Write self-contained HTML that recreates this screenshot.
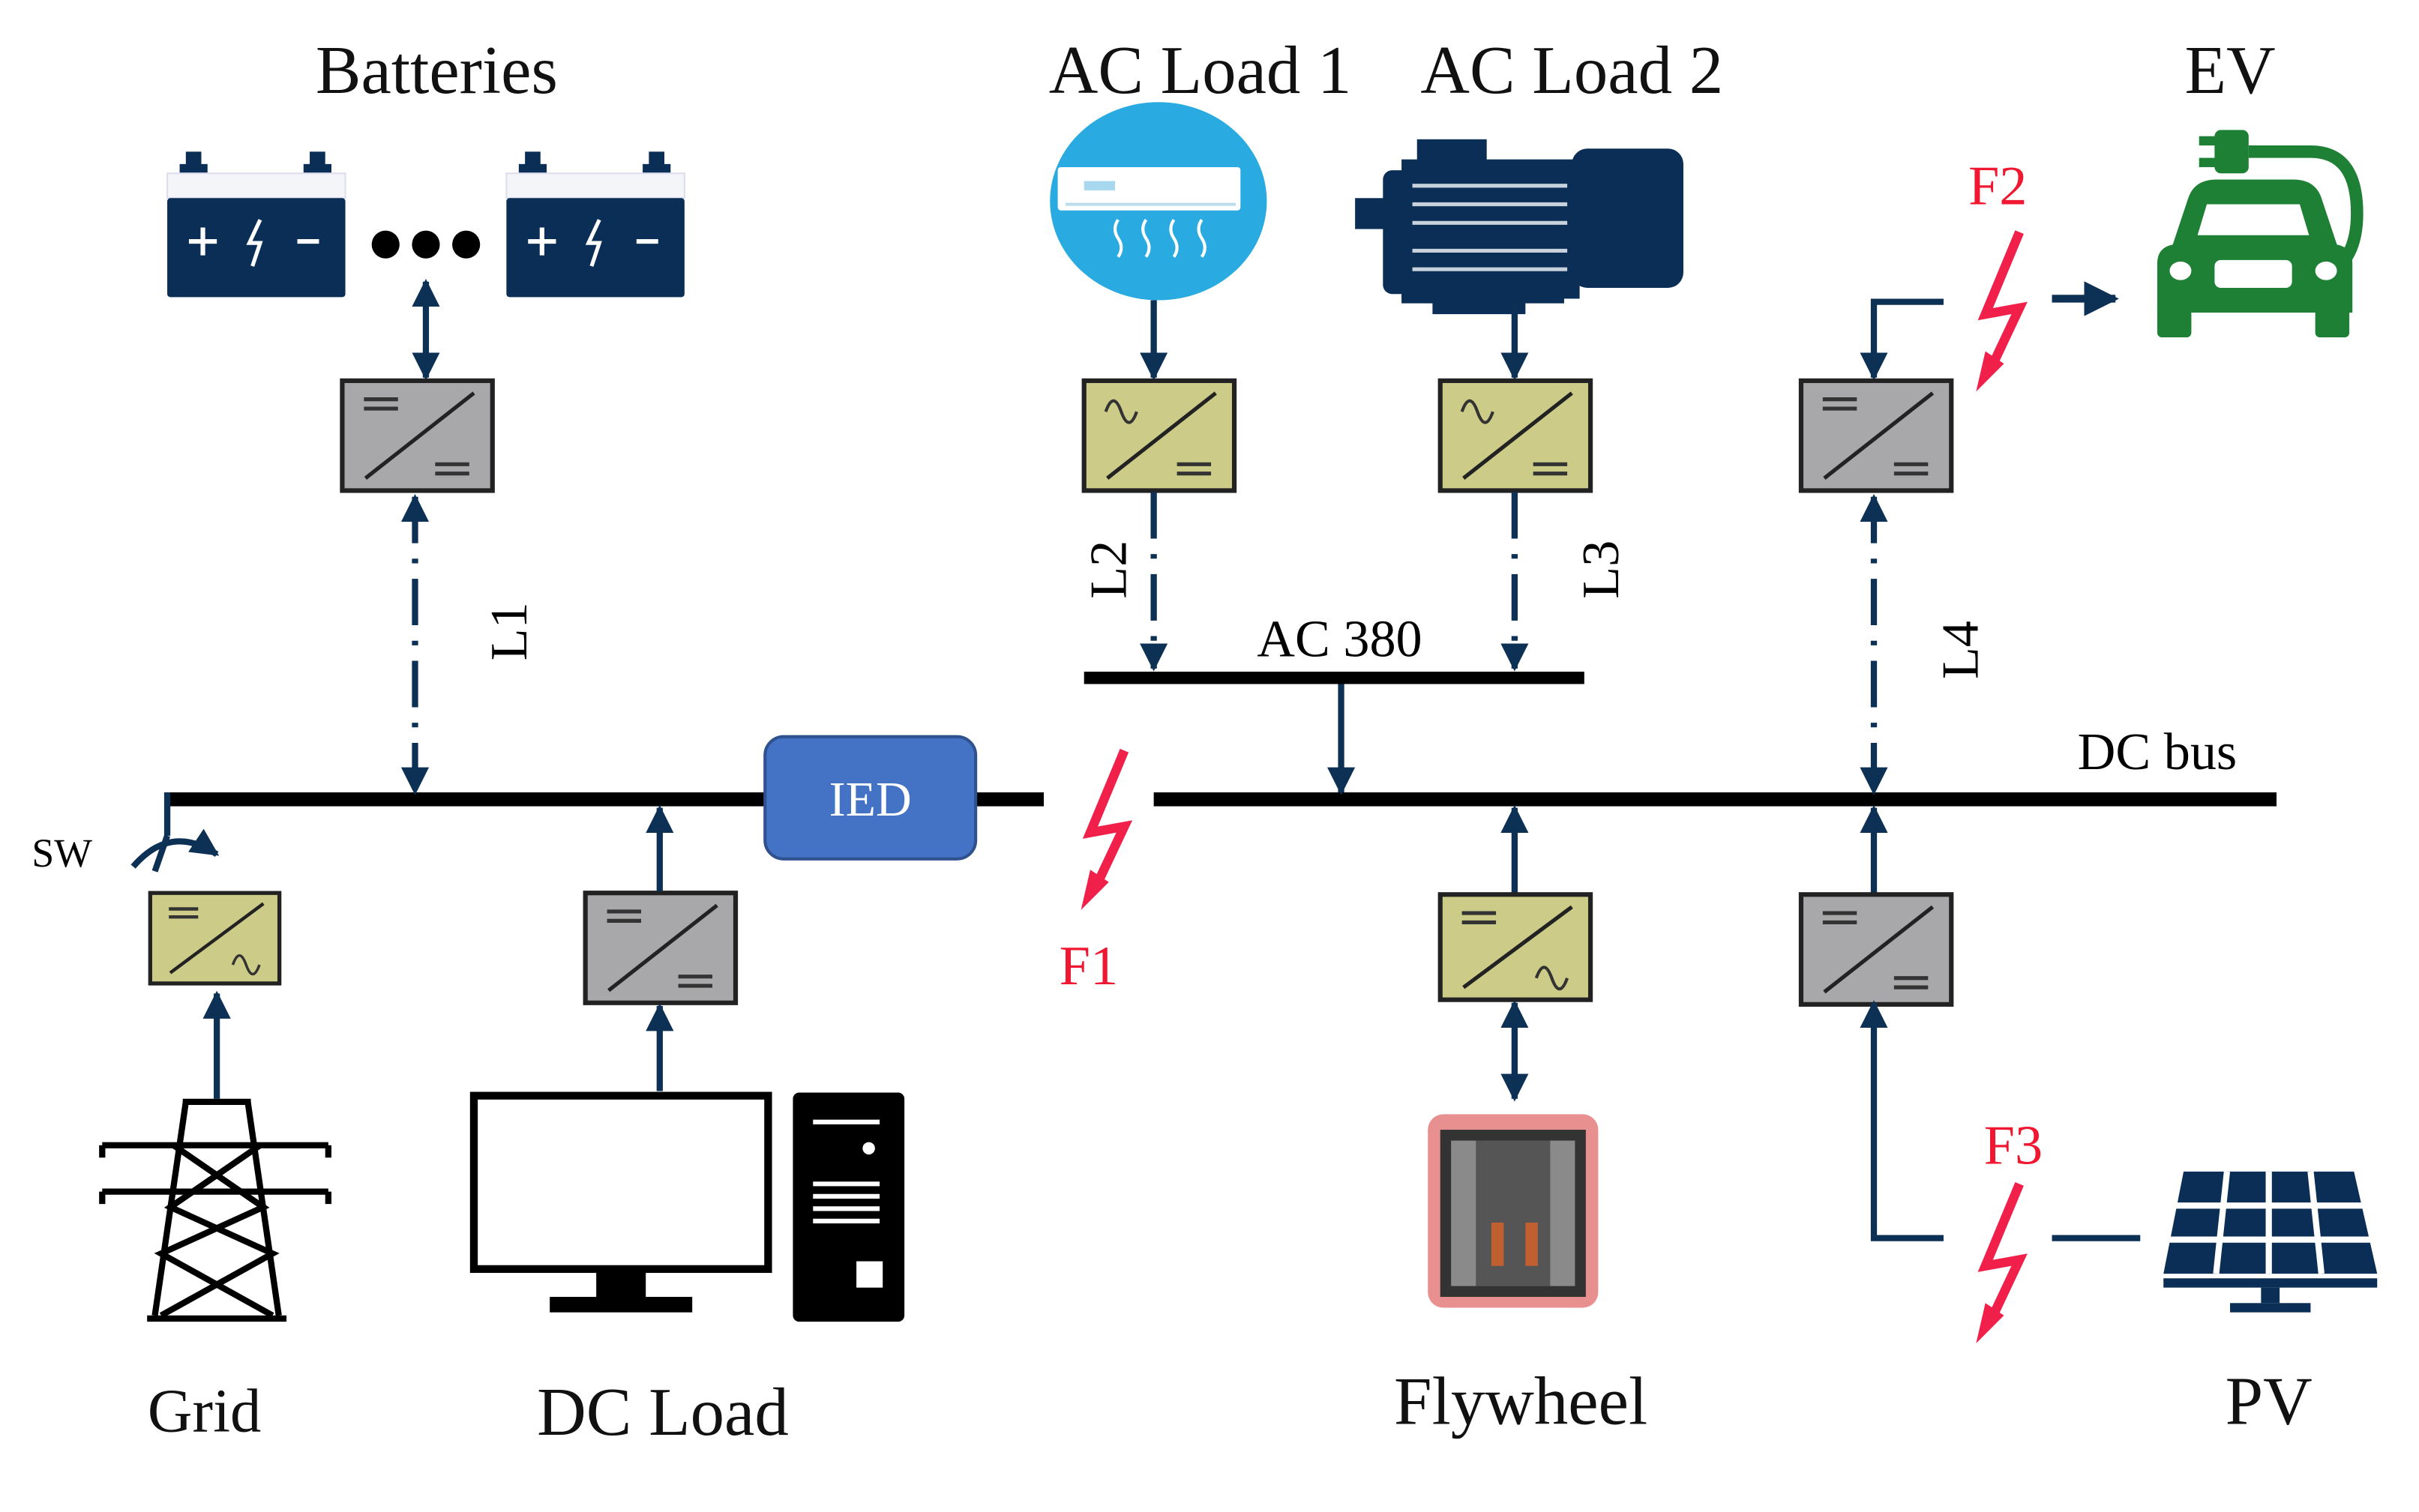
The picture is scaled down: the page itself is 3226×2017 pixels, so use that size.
<!DOCTYPE html>
<html><head><meta charset="utf-8"><style>
html,body{margin:0;padding:0;background:#fff}
svg{display:block}
text{font-family:"Liberation Serif",serif}
</style></head><body>
<svg width="3226" height="2017" viewBox="0 0 1562 977" preserveAspectRatio="none" xmlns="http://www.w3.org/2000/svg">
<defs>
<marker id="a" viewBox="0 0 10 10" refX="9" refY="5" markerWidth="4.5" markerHeight="4.5" orient="auto-start-reverse" markerUnits="strokeWidth"><path d="M0,0 L10,5 L0,10 z" fill="#0d3055"/></marker>
<g id="bolt">
<path d="M14,-45 L-8,8 L14,4 L-2,38" fill="none" stroke="#f0204a" stroke-width="6" stroke-linejoin="miter"/>
<path d="M-8,32 L4,40 L-14,58 z" fill="#f0204a"/>
</g>
<g id="cgray">
<rect x="0" y="0" width="97" height="71" fill="#a8a8aa" stroke="#222" stroke-width="3"/>
<line x1="15" y1="63" x2="85" y2="8" stroke="#222" stroke-width="2.5"/>
<line x1="14" y1="12" x2="36" y2="12" stroke="#333" stroke-width="2.5"/><line x1="14" y1="18" x2="36" y2="18" stroke="#333" stroke-width="2.5"/>
<line x1="60" y1="54" x2="82" y2="54" stroke="#333" stroke-width="2.5"/><line x1="60" y1="60" x2="82" y2="60" stroke="#333" stroke-width="2.5"/>
</g>
<g id="cac">
<rect x="0" y="0" width="97" height="71" fill="#cccc88" stroke="#222" stroke-width="3"/>
<line x1="15" y1="63" x2="85" y2="8" stroke="#222" stroke-width="2.5"/>
<path d="M14,20 q5,-14 10,0 q5,14 10,0" fill="none" stroke="#333" stroke-width="2"/>
<line x1="60" y1="54" x2="82" y2="54" stroke="#333" stroke-width="2.5"/><line x1="60" y1="60" x2="82" y2="60" stroke="#333" stroke-width="2.5"/>
</g>
<g id="cdcac">
<rect x="0" y="0" width="97" height="68" fill="#cccc88" stroke="#222" stroke-width="3"/>
<line x1="15" y1="60" x2="85" y2="8" stroke="#222" stroke-width="2.5"/>
<line x1="14" y1="12" x2="36" y2="12" stroke="#333" stroke-width="2.5"/><line x1="14" y1="18" x2="36" y2="18" stroke="#333" stroke-width="2.5"/>
<path d="M62,54 q5,-14 10,0 q5,14 10,0" fill="none" stroke="#333" stroke-width="2"/>
</g>
<g id="batt">
<rect x="12" y="-14" width="10" height="14" fill="#0a2e55"/><rect x="8" y="-6" width="18" height="6" fill="#0a2e55"/>
<rect x="92" y="-14" width="10" height="14" fill="#0a2e55"/><rect x="88" y="-6" width="18" height="6" fill="#0a2e55"/>
<rect x="0" y="0" width="115" height="16" fill="#f3f5f8" stroke="#dde" stroke-width="1"/>
<rect x="0" y="16" width="115" height="64" fill="#0a2e55" rx="2"/>
<line x1="14" y1="44" x2="32" y2="44" stroke="#fff" stroke-width="3"/><line x1="23" y1="35" x2="23" y2="53" stroke="#fff" stroke-width="3"/>
<path d="M60,30 L53,45 L60,45 L55,60" fill="none" stroke="#fff" stroke-width="2.5"/>
<line x1="84" y1="44" x2="98" y2="44" stroke="#fff" stroke-width="3"/>
</g>
</defs>

<g font-size="44" fill="#111" text-anchor="middle">
<text x="282" y="60">Batteries</text>
<text x="775" y="60">AC Load 1</text>
<text x="1015" y="60">AC Load 2</text>
<text x="1440" y="60">EV</text>
<text x="132" y="925" font-size="40">Grid</text>
<text x="428" y="927">DC Load</text>
<text x="982" y="920">Flywheel</text>
<text x="1465" y="920">PV</text>
</g>

<rect x="107" y="512" width="567" height="9" fill="#000"/>
<rect x="745" y="512" width="725" height="9" fill="#000"/>
<rect x="700" y="434" width="323" height="8" fill="#000"/>
<text x="865" y="424" font-size="34" text-anchor="middle">AC 380</text>
<text x="1393" y="497" font-size="34" text-anchor="middle">DC bus</text>

<use href="#batt" x="108" y="112"/>
<use href="#batt" x="327" y="112"/>
<circle cx="249" cy="158" r="9" fill="#000"/><circle cx="275" cy="158" r="9" fill="#000"/><circle cx="301" cy="158" r="9" fill="#000"/>
<line x1="275" y1="182" x2="275" y2="244" stroke="#0d3055" stroke-width="4" marker-start="url(#a)" marker-end="url(#a)"/>
<use href="#cgray" x="221" y="246"/>
<line x1="268" y1="321" x2="268" y2="512" stroke="#0d3055" stroke-width="4" stroke-dasharray="30,10,3,10" marker-start="url(#a)" marker-end="url(#a)"/>
<text transform="translate(340,408) rotate(-90)" font-size="34" text-anchor="middle">L1</text>

<ellipse cx="748" cy="130" rx="70" ry="64" fill="#29abe2"/>
<rect x="683" y="108" width="118" height="28" fill="#fff" rx="2"/>
<rect x="700" y="117" width="20" height="6" fill="#a8d8ef"/>
<line x1="688" y1="132" x2="798" y2="132" stroke="#bde" stroke-width="2"/>
<path d="M722,142 q-4,6 0,12 q4,6 0,12 M740,142 q-4,6 0,12 q4,6 0,12 M758,142 q-4,6 0,12 q4,6 0,12 M776,142 q-4,6 0,12 q4,6 0,12" fill="none" stroke="#fff" stroke-width="2"/>
<line x1="745" y1="194" x2="745" y2="244" stroke="#0d3055" stroke-width="4" marker-end="url(#a)"/>
<use href="#cac" x="700" y="246"/>
<line x1="745" y1="318" x2="745" y2="432" stroke="#0d3055" stroke-width="4" stroke-dasharray="30,10,3,10" marker-end="url(#a)"/>
<text transform="translate(727,368) rotate(-90)" font-size="34" text-anchor="middle">L2</text>

<g fill="#0a2e55">
<rect x="915" y="90" width="45" height="30"/>
<rect x="875" y="128" width="25" height="20"/>
<rect x="893" y="110" width="18" height="80" rx="6"/>
<rect x="905" y="103" width="115" height="90"/>
<rect x="1015" y="96" width="72" height="90" rx="10"/>
<rect x="925" y="193" width="60" height="10"/>
<rect x="905" y="182" width="105" height="14"/>
</g>
<g stroke="#c8d2dc" stroke-width="2.5">
<line x1="912" y1="120" x2="1012" y2="120"/><line x1="912" y1="132" x2="1012" y2="132"/><line x1="912" y1="144" x2="1012" y2="144"/>
<line x1="912" y1="162" x2="1012" y2="162"/><line x1="912" y1="174" x2="1012" y2="174"/>
</g>
<line x1="978" y1="196" x2="978" y2="244" stroke="#0d3055" stroke-width="4" marker-end="url(#a)"/>
<use href="#cac" x="930" y="246"/>
<line x1="978" y1="318" x2="978" y2="432" stroke="#0d3055" stroke-width="4" stroke-dasharray="30,10,3,10" marker-end="url(#a)"/>
<text transform="translate(1045,368) rotate(-90)" font-size="34" text-anchor="middle">L3</text>

<line x1="866" y1="442" x2="866" y2="512" stroke="#0d3055" stroke-width="4" marker-end="url(#a)"/>

<g fill="#1e8034">
<path d="M1393,170 q0,-10 10,-12 l10,-30 q4,-12 18,-12 h50 q14,0 18,12 l10,30 q10,2 10,12 v32 h-126 z"/>
<rect x="1393" y="195" width="22" height="23" rx="3"/><rect x="1495" y="195" width="22" height="23" rx="3"/>
<rect x="1430" y="84" width="22" height="28" rx="4"/>
<rect x="1420" y="88" width="12" height="6"/><rect x="1420" y="102" width="12" height="6"/>
<path d="M1452,98 h40 q30,0 30,40 q0,30 -20,40" fill="none" stroke="#1e8034" stroke-width="8"/>
</g>
<path d="M1425,132 h60 l6,20 h-72 z" fill="#fff"/>
<ellipse cx="1408" cy="175" rx="7" ry="6" fill="#fff"/><ellipse cx="1502" cy="175" rx="7" ry="6" fill="#fff"/>
<rect x="1430" y="168" width="50" height="18" rx="4" fill="#fff"/>
<text x="1290" y="132" font-size="36" fill="#f01830" text-anchor="middle">F2</text>
<use href="#bolt" x="1290" y="195"/>
<path d="M1255,195 H1210 V244" fill="none" stroke="#0d3055" stroke-width="4" marker-end="url(#a)"/>
<line x1="1325" y1="193" x2="1366" y2="193" stroke="#0d3055" stroke-width="5" marker-end="url(#a)"/>
<use href="#cgray" x="1163" y="246"/>
<line x1="1210" y1="321" x2="1210" y2="512" stroke="#0d3055" stroke-width="4" stroke-dasharray="30,10,3,10" marker-start="url(#a)" marker-end="url(#a)"/>
<text transform="translate(1277,420) rotate(-90)" font-size="34" text-anchor="middle">L4</text>

<rect x="494" y="476" width="136" height="79" rx="12" fill="#4472c4" stroke="#2f528f" stroke-width="2"/>
<text x="562" y="527" font-size="32" fill="#fff" text-anchor="middle">IED</text>

<use href="#bolt" x="712" y="530"/>
<text x="703" y="636" font-size="36" fill="#f01830" text-anchor="middle">F1</text>

<line x1="108" y1="512" x2="108" y2="540" stroke="#0d3055" stroke-width="4"/>
<path d="M86,560 Q110,532 140,552" fill="none" stroke="#0d3055" stroke-width="4" marker-end="url(#a)"/>
<line x1="100" y1="563" x2="108" y2="540" stroke="#0d3055" stroke-width="4"/>
<text x="40" y="560" font-size="26" text-anchor="middle">SW</text>
<g transform="translate(97,577) scale(0.86,0.86)"><use href="#cdcac"/></g>
<line x1="140" y1="710" x2="140" y2="642" stroke="#0d3055" stroke-width="4" marker-end="url(#a)"/>
<g stroke="#000" stroke-width="4" fill="none">
<path d="M120,712 L100,850 M160,712 L180,850 M95,852 h90"/>
<path d="M66,740 H212 M66,770 H212 M118,712 h44"/>
<path d="M112,740 L170,780 L104,810 L176,850 M168,740 L110,780 L176,810 L104,850"/>
<path d="M66,740 v8 M212,740 v8 M66,770 v8 M212,770 v8"/>
</g>

<use href="#cgray" x="378" y="577"/>
<line x1="426" y1="705" x2="426" y2="650" stroke="#0d3055" stroke-width="4" marker-end="url(#a)"/>
<line x1="426" y1="576" x2="426" y2="522" stroke="#0d3055" stroke-width="4" marker-end="url(#a)"/>
<rect x="306" y="708" width="190" height="112" fill="#fff" stroke="#000" stroke-width="5"/>
<rect x="385" y="820" width="32" height="20" fill="#000"/>
<rect x="355" y="838" width="92" height="10" fill="#000"/>
<rect x="512" y="706" width="72" height="148" rx="4" fill="#000"/>
<g stroke="#fff" stroke-width="3"><line x1="525" y1="725" x2="568" y2="725"/><line x1="525" y1="765" x2="568" y2="765"/><line x1="525" y1="773" x2="568" y2="773"/><line x1="525" y1="781" x2="568" y2="781"/><line x1="525" y1="789" x2="568" y2="789"/></g>
<circle cx="561" cy="742" r="4" fill="#fff"/>
<rect x="553" y="815" width="17" height="17" fill="#fff"/>

<line x1="978" y1="578" x2="978" y2="522" stroke="#0d3055" stroke-width="4" marker-end="url(#a)"/>
<use href="#cdcac" x="930" y="578"/>
<line x1="978" y1="648" x2="978" y2="710" stroke="#0d3055" stroke-width="4" marker-start="url(#a)" marker-end="url(#a)"/>
<rect x="922" y="720" width="110" height="125" rx="10" fill="#e89090"/>
<rect x="930" y="730" width="94" height="108" fill="#333"/>
<rect x="937" y="737" width="80" height="94" fill="#8a8a8a"/>
<rect x="953" y="737" width="48" height="94" fill="#555"/>
<rect x="963" y="790" width="8" height="28" fill="#c06030"/><rect x="985" y="790" width="8" height="28" fill="#c06030"/>

<line x1="1210" y1="578" x2="1210" y2="522" stroke="#0d3055" stroke-width="4" marker-end="url(#a)"/>
<use href="#cgray" x="1163" y="578"/>
<path d="M1255,800 H1210 V648" fill="none" stroke="#0d3055" stroke-width="4" marker-end="url(#a)"/>
<text x="1300" y="752" font-size="36" fill="#f01830" text-anchor="middle">F3</text>
<use href="#bolt" x="1290" y="810"/>
<line x1="1325" y1="800" x2="1382" y2="800" stroke="#0d3055" stroke-width="4"/>
<g fill="#0a2e55">
<path d="M1410,757 H1520 L1535,823 H1397 z"/>
<rect x="1397" y="826" width="138" height="6"/>
<rect x="1460" y="832" width="12" height="10"/><rect x="1440" y="842" width="52" height="6"/>
</g>
<g stroke="#fff" stroke-width="4">
<line x1="1401" y1="779" x2="1531" y2="779"/><line x1="1399" y1="801" x2="1533" y2="801"/>
<line x1="1438" y1="757" x2="1431" y2="823"/><line x1="1465" y1="757" x2="1465" y2="823"/><line x1="1492" y1="757" x2="1499" y2="823"/>
</g>
</svg>
</body></html>
